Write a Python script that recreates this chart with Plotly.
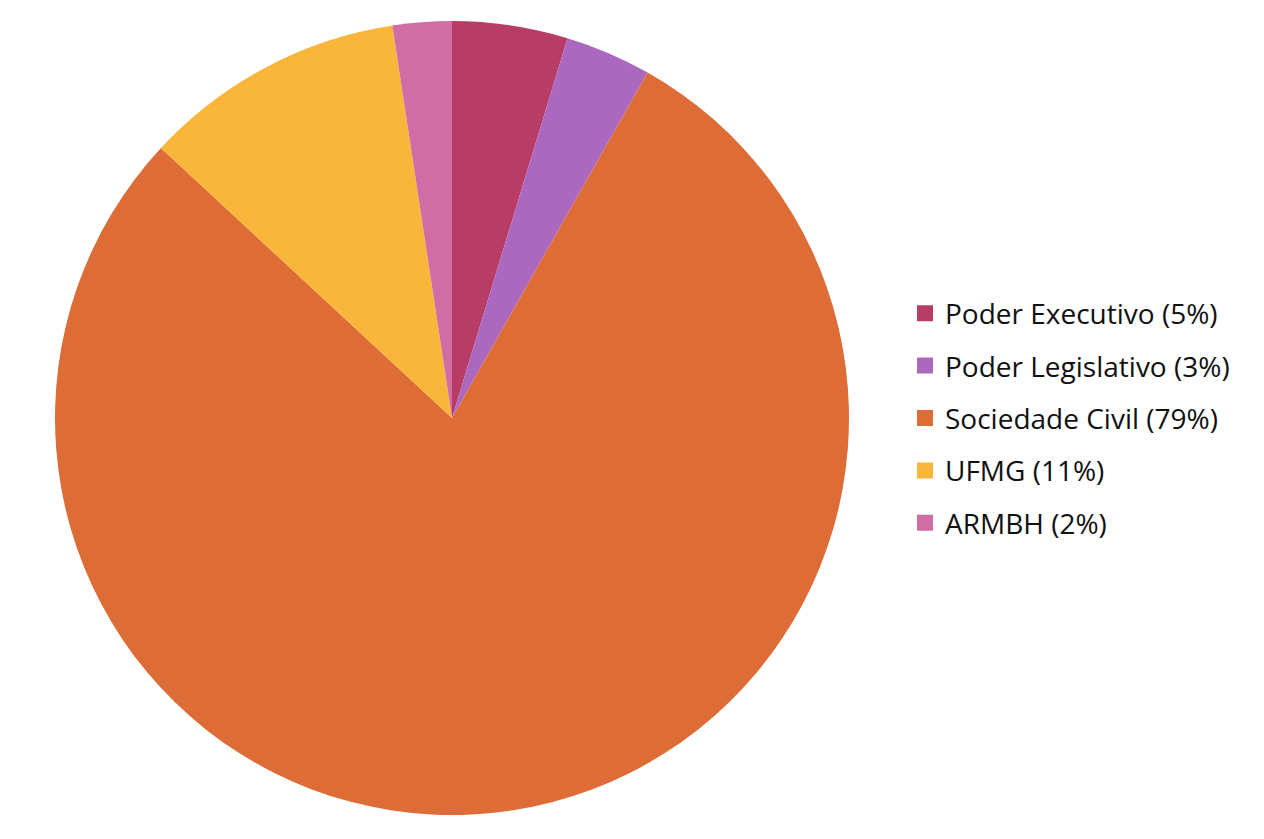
import plotly.graph_objects as go

categories = ["Poder Executivo", "Poder Legislativo", "Sociedade Civil", "UFMG", "ARMBH"]
shares = [4.7, 3.5, 78.7, 10.7, 2.4]
pct_labels = ["5%", "3%", "79%", "11%", "2%"]
colors = ["#B83C66", "#AB68BE", "#DE6C37", "#F9B63B", "#CF6DA4"]

labels = [f"{c} ({p})" for c, p in zip(categories, pct_labels)]

W, H = 1248, 823  # page body adds an 8px offset
fig = go.Figure()
fig.add_trace(go.Pie(
    labels=labels, values=shares, sort=False, direction="clockwise", rotation=0,
    marker=dict(colors=colors, line=dict(width=0)),
    textinfo="none", hoverinfo="label+percent", showlegend=False,
    domain=dict(x=[(444 - 397) / W, (444 + 397) / W], y=[0, 1]),
))
for i, (lab, col) in enumerate(zip(labels, colors)):
    fig.add_trace(go.Scatter(
        x=[None], y=[None], mode="markers", name=lab, legendgroup=f"g{i}",
        marker=dict(symbol="square", size=17, color=col),
    ))

fig.update_layout(
    width=W, height=H,
    margin=dict(l=0, r=0, t=13, b=16),
    paper_bgcolor="white", plot_bgcolor="white",
    xaxis=dict(visible=False), yaxis=dict(visible=False),
    font=dict(family="Open Sans, sans-serif", color="#111111"),
    legend=dict(
        x=897 / W, xanchor="left", y=0.5, yanchor="middle",
        font=dict(size=28, family="Open Sans, sans-serif", color="#111111"),
        tracegroupgap=13, itemsizing="trace", bgcolor="rgba(0,0,0,0)",
    ),
)
fig.write_html("out.html")
